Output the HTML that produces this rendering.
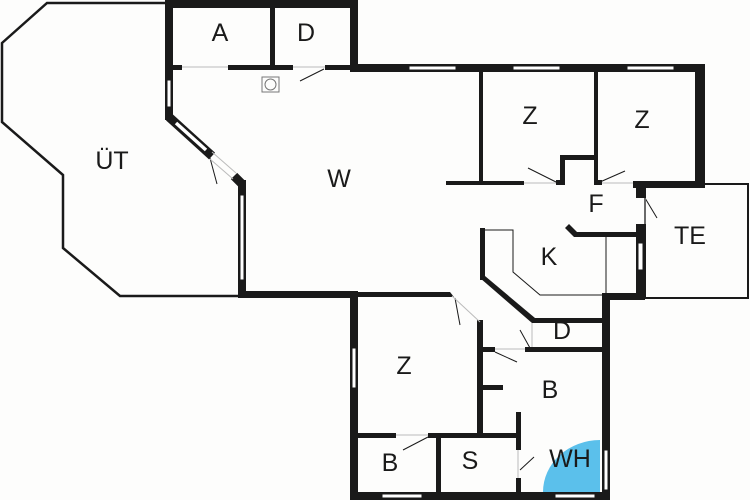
<!DOCTYPE html>
<html><head><meta charset="utf-8"><style>
html,body{margin:0;padding:0;background:#fff;}
svg{display:block}
text{font-family:"Liberation Sans",sans-serif;font-size:25px;fill:#1a1a1a;text-anchor:middle;dominant-baseline:central}
</style></head><body>
<svg width="750" height="500" viewBox="0 0 750 500" xmlns="http://www.w3.org/2000/svg">
<rect width="750" height="500" fill="#fdfdfc"/>
<polyline points="165,3 47,3 2,43 2,122 63,175 63,248 120,296 238,296" fill="none" stroke="#1a1a1a" stroke-width="2.5"/>
<rect x="645" y="184" width="103" height="114" fill="none" stroke="#1a1a1a" stroke-width="2"/>
<path d="M600,492 L543,492 A57,52 0 0 1 600,440 Z" fill="#5bc0eb"/>
<g fill="#1a1a1a">
<rect x="165" y="0" width="192" height="8"/>
<rect x="165" y="0" width="8" height="120"/>
<rect x="350" y="0" width="8" height="71"/>
<rect x="270" y="8" width="5" height="62"/>
<rect x="173" y="65" width="9" height="5"/>
<rect x="228" y="65" width="65" height="5"/>
<rect x="325" y="65" width="25" height="5"/>
<rect x="350" y="64" width="355" height="8"/>
<rect x="695" y="64" width="10" height="124"/>
<rect x="479" y="72" width="4" height="112"/>
<rect x="594" y="72" width="4" height="112"/>
<rect x="446" y="181" width="78" height="4"/>
<rect x="556" y="180" width="9" height="5"/>
<rect x="560" y="155" width="5" height="30"/>
<rect x="560" y="155" width="38" height="5"/>
<rect x="594" y="180" width="8" height="5"/>
<rect x="633" y="181" width="72" height="7"/>
<rect x="636" y="181" width="9" height="17"/>
<rect x="480" y="228" width="5" height="52"/>
<polygon points="480,278 485,276 535,318 532,323"/>
<polygon points="565,228 569,224 577,232 640,232 640,237 574,237"/>
<rect x="636" y="224" width="9" height="76"/>
<rect x="603" y="293" width="42" height="7"/>
<rect x="602" y="293" width="8" height="207"/>
<rect x="238" y="180" width="8" height="118"/>
<rect x="238" y="291" width="119" height="7"/>
<rect x="350" y="291" width="8" height="209"/>
<rect x="350" y="492" width="260" height="8"/>
<polygon points="357,292 450,292 454,297 357,297"/>
<rect x="477" y="320" width="6" height="116"/>
<rect x="483" y="347" width="12" height="5"/>
<rect x="525" y="347" width="78" height="5"/>
<rect x="532" y="318" width="70" height="5"/>
<rect x="483" y="385" width="20" height="5"/>
<rect x="357" y="433" width="39" height="5"/>
<rect x="428" y="433" width="92" height="5"/>
<rect x="436" y="433" width="5" height="60"/>
<rect x="516" y="412" width="5" height="38"/>
<rect x="516" y="478" width="5" height="16"/>
</g>
<!-- diagonal wall -->
<line x1="169" y1="117" x2="212" y2="156" stroke="#1a1a1a" stroke-width="9"/>
<line x1="234" y1="176" x2="242" y2="184" stroke="#1a1a1a" stroke-width="9"/>
<line x1="176" y1="123" x2="206" y2="150" stroke="#fff" stroke-width="3.5"/>
<g fill="#fff" stroke="#1a1a1a" stroke-width="1">
<rect x="409" y="66" width="47" height="4"/>
<rect x="513" y="66" width="47" height="4"/>
<rect x="627" y="66" width="47" height="4"/>
<rect x="240" y="195" width="4" height="85"/>
<rect x="167" y="80" width="4" height="27"/>
<rect x="638" y="243" width="5" height="27"/>
<rect x="352" y="348" width="4" height="40"/>
<rect x="382" y="494" width="40" height="4"/>
<rect x="555" y="494" width="40" height="4"/>
<rect x="604" y="450" width="4" height="40"/>
</g>
<g stroke="#1a1a1a" stroke-width="1" fill="none">
<line x1="300" y1="81" x2="324" y2="69"/>
<line x1="210" y1="158" x2="217" y2="184"/>
<line x1="528" y1="168" x2="556" y2="182"/>
<line x1="600" y1="182" x2="625" y2="171"/>
<line x1="645" y1="198" x2="657" y2="218"/>
<line x1="455" y1="298" x2="460" y2="325"/>
<line x1="520" y1="330" x2="530" y2="348"/>
<line x1="495" y1="352" x2="517" y2="362"/>
<line x1="403" y1="450" x2="428" y2="437"/>
<line x1="520" y1="470" x2="534" y2="457"/>
<polyline points="483,230 513,230 513,272 540,295 602,295"/>
<line x1="606" y1="235" x2="606" y2="295"/>
</g>
<g stroke="#bbb" stroke-width="1" fill="none">
<line x1="182" y1="67" x2="228" y2="67"/>
<line x1="293" y1="67" x2="325" y2="67"/>
<line x1="212" y1="152" x2="236" y2="173"/>
<line x1="210" y1="159" x2="233" y2="179"/>
<line x1="524" y1="183" x2="556" y2="183"/>
<line x1="602" y1="183" x2="633" y2="183"/>
<line x1="645" y1="198" x2="645" y2="224"/>
<line x1="452" y1="296" x2="480" y2="322"/>
<line x1="532" y1="323" x2="532" y2="347"/>
<line x1="495" y1="349" x2="525" y2="349"/>
<line x1="396" y1="435" x2="428" y2="435"/>
<line x1="518" y1="450" x2="518" y2="478"/>
</g>
<rect x="262" y="77" width="17" height="15" fill="none" stroke="#777" stroke-width="1"/>
<circle cx="270.5" cy="84.5" r="5.5" fill="none" stroke="#777" stroke-width="1"/>
<text x="220" y="33">A</text>
<text x="306" y="33">D</text>
<text x="112" y="161">ÜT</text>
<text x="339" y="179">W</text>
<text x="530" y="116">Z</text>
<text x="642" y="120">Z</text>
<text x="596" y="204">F</text>
<text x="690" y="236">TE</text>
<text x="549" y="257">K</text>
<text x="562" y="331">D</text>
<text x="404" y="366">Z</text>
<text x="550" y="390">B</text>
<text x="390" y="463">B</text>
<text x="470" y="461">S</text>
<text x="570" y="459">WH</text>
</svg>
</body></html>
